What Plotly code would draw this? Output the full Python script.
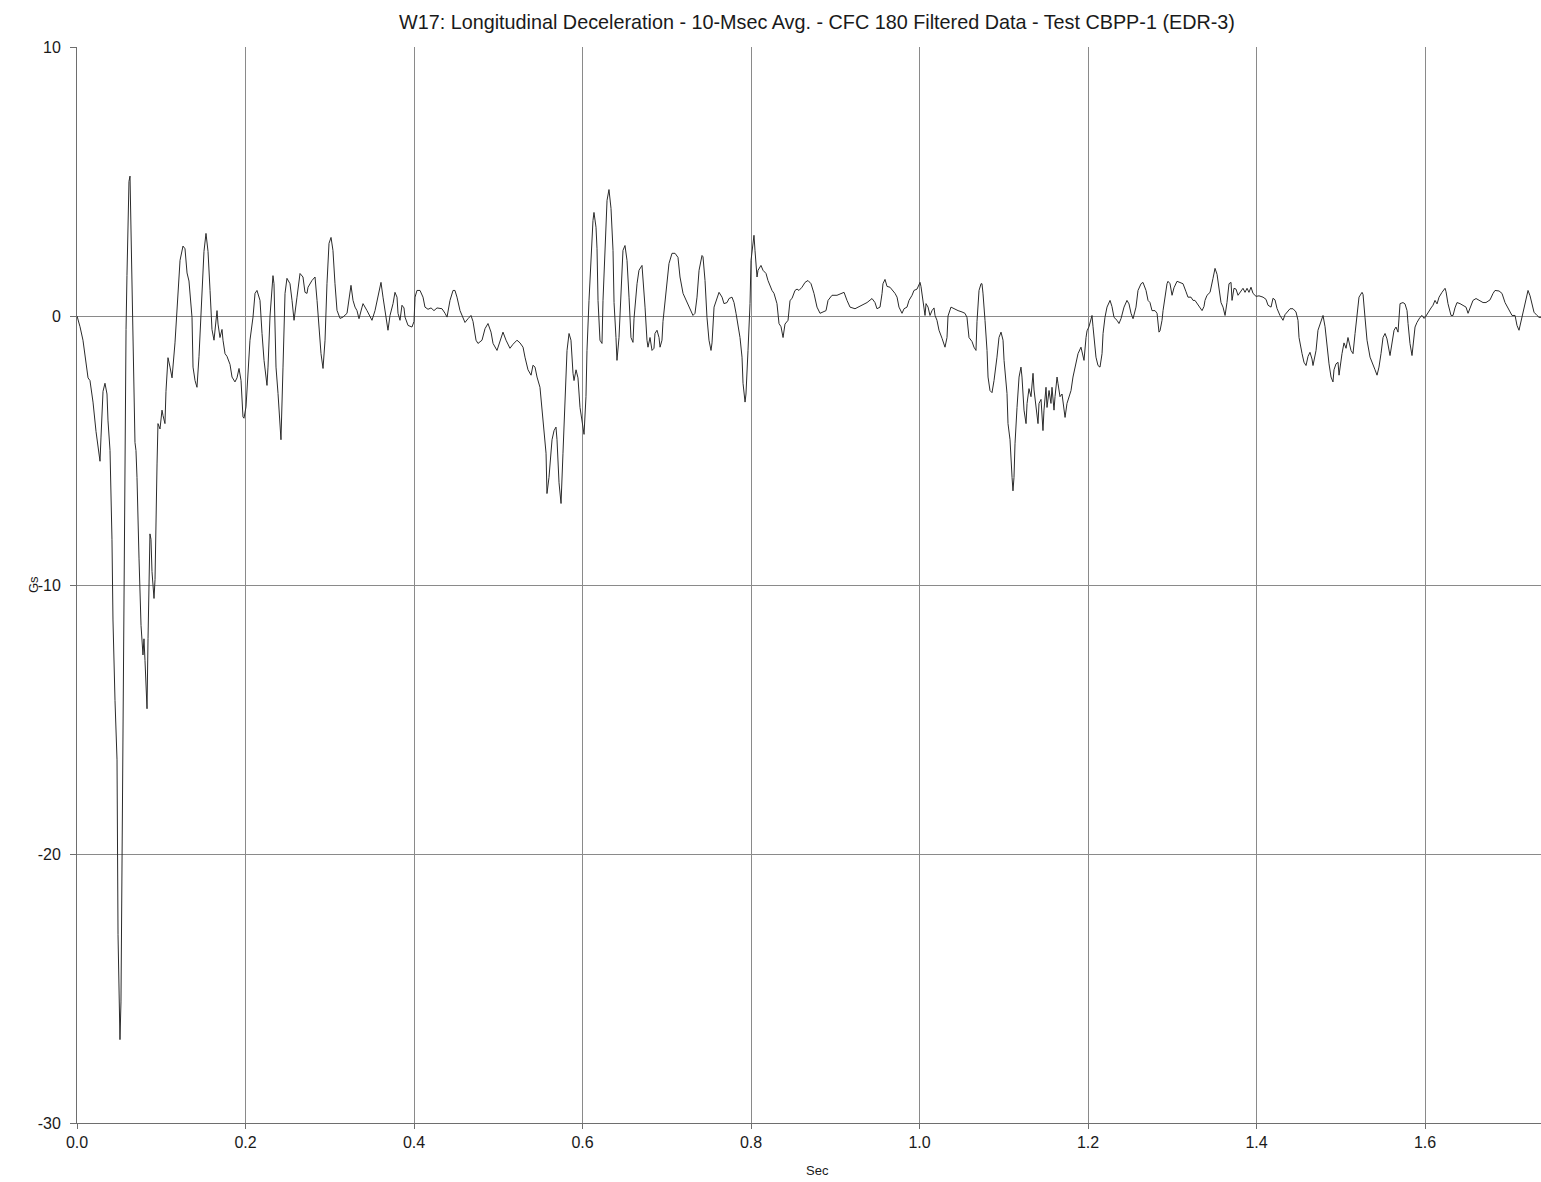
import plotly.graph_objects as go

title_text = "W17: Longitudinal Deceleration - 10-Msec Avg. - CFC 180 Filtered Data - Test CBPP-1 (EDR-3)"
x_label = "Sec"
y_label = "Gs"
x_ticks = [0.0, 0.2, 0.4, 0.6, 0.8, 1.0, 1.2, 1.4, 1.6]
y_ticks = [-30, -20, -10, 0, 10]
y_tick_text = ["-30", "-20", "-10", "0", "10"]

time_s = [
    0.0000, 0.0036, 0.0071, 0.0107, 0.0131, 0.0154, 0.0190, 0.0226, 0.0249, 0.0273,
    0.0285, 0.0309, 0.0332, 0.0356, 0.0368, 0.0392, 0.0415, 0.0427, 0.0451, 0.0475,
    0.0487, 0.0498, 0.0510, 0.0522, 0.0534, 0.0546, 0.0558, 0.0570, 0.0582, 0.0593,
    0.0605, 0.0617, 0.0629, 0.0641, 0.0653, 0.0665, 0.0677, 0.0688, 0.0700, 0.0712,
    0.0736, 0.0760, 0.0783, 0.0795, 0.0807, 0.0831, 0.0843, 0.0866, 0.0878, 0.0890,
    0.0914, 0.0926, 0.0950, 0.0961, 0.0985, 0.1009, 0.1021, 0.1044, 0.1056, 0.1080,
    0.1104, 0.1128, 0.1163, 0.1187, 0.1223, 0.1258, 0.1282, 0.1306, 0.1329, 0.1365,
    0.1377, 0.1401, 0.1424, 0.1448, 0.1484, 0.1507, 0.1531, 0.1555, 0.1579, 0.1602,
    0.1626, 0.1650, 0.1662, 0.1674, 0.1697, 0.1721, 0.1733, 0.1757, 0.1780, 0.1816,
    0.1840, 0.1875, 0.1899, 0.1923, 0.1947, 0.1970, 0.1982, 0.2006, 0.2030, 0.2053,
    0.2089, 0.2113, 0.2136, 0.2172, 0.2196, 0.2220, 0.2255, 0.2267, 0.2291, 0.2326,
    0.2338, 0.2362, 0.2386, 0.2421, 0.2445, 0.2469, 0.2492, 0.2528, 0.2552, 0.2576,
    0.2611, 0.2647, 0.2682, 0.2706, 0.2730, 0.2742, 0.2789, 0.2825, 0.2849, 0.2872,
    0.2896, 0.2920, 0.2944, 0.2967, 0.2991, 0.3015, 0.3038, 0.3062, 0.3086, 0.3122,
    0.3157, 0.3205, 0.3228, 0.3252, 0.3276, 0.3300, 0.3323, 0.3347, 0.3383, 0.3395,
    0.3442, 0.3478, 0.3501, 0.3537, 0.3573, 0.3608, 0.3632, 0.3656, 0.3679, 0.3691,
    0.3715, 0.3751, 0.3774, 0.3798, 0.3810, 0.3834, 0.3857, 0.3881, 0.3893, 0.3929,
    0.3976, 0.4000, 0.4012, 0.4035, 0.4071, 0.4107, 0.4130, 0.4166, 0.4202, 0.4237,
    0.4273, 0.4332, 0.4368, 0.4392, 0.4427, 0.4463, 0.4486, 0.4510, 0.4546, 0.4581,
    0.4605, 0.4641, 0.4676, 0.4700, 0.4736, 0.4759, 0.4807, 0.4843, 0.4878, 0.4914,
    0.4938, 0.4985, 0.5021, 0.5056, 0.5092, 0.5139, 0.5175, 0.5222, 0.5258, 0.5294,
    0.5317, 0.5353, 0.5389, 0.5412, 0.5436, 0.5460, 0.5495, 0.5531, 0.5567, 0.5578,
    0.5602, 0.5638, 0.5662, 0.5685, 0.5697, 0.5721, 0.5745, 0.5768, 0.5792, 0.5816,
    0.5840, 0.5863, 0.5887, 0.5899, 0.5923, 0.5946, 0.5970, 0.6006, 0.6018, 0.6041,
    0.6053, 0.6077, 0.6101, 0.6124, 0.6136, 0.6160, 0.6172, 0.6184, 0.6207, 0.6231,
    0.6243, 0.6267, 0.6291, 0.6314, 0.6338, 0.6362, 0.6374, 0.6397, 0.6409, 0.6433,
    0.6457, 0.6480, 0.6504, 0.6528, 0.6552, 0.6575, 0.6599, 0.6611, 0.6647, 0.6670,
    0.6706, 0.6718, 0.6742, 0.6765, 0.6777, 0.6801, 0.6825, 0.6848, 0.6860, 0.6884,
    0.6908, 0.6920, 0.6943, 0.6955, 0.6979, 0.7003, 0.7026, 0.7062, 0.7098, 0.7133,
    0.7157, 0.7193, 0.7228, 0.7264, 0.7311, 0.7335, 0.7359, 0.7383, 0.7418, 0.7430,
    0.7454, 0.7477, 0.7501, 0.7525, 0.7537, 0.7561, 0.7596, 0.7620, 0.7656, 0.7679,
    0.7715, 0.7739, 0.7774, 0.7798, 0.7822, 0.7845, 0.7869, 0.7893, 0.7905, 0.7929,
    0.7940, 0.7964, 0.7988, 0.8000, 0.8023, 0.8035, 0.8047, 0.8071, 0.8083, 0.8118,
    0.8142, 0.8178, 0.8201, 0.8249, 0.8273, 0.8308, 0.8332, 0.8356, 0.8380, 0.8403,
    0.8439, 0.8463, 0.8486, 0.8522, 0.8546, 0.8569, 0.8605, 0.8641, 0.8676, 0.8712,
    0.8747, 0.8783, 0.8819, 0.8854, 0.8890, 0.8914, 0.8961, 0.9020, 0.9080, 0.9104,
    0.9139, 0.9175, 0.9234, 0.9269, 0.9317, 0.9377, 0.9436, 0.9471, 0.9495, 0.9531,
    0.9555, 0.9566, 0.9590, 0.9614, 0.9649, 0.9685, 0.9709, 0.9733, 0.9756, 0.9792,
    0.9816, 0.9851, 0.9875, 0.9911, 0.9934, 0.9970, 1.0006, 1.0017, 1.0041, 1.0065,
    1.0077, 1.0101, 1.0124, 1.0148, 1.0172, 1.0184, 1.0207, 1.0231, 1.0267, 1.0302,
    1.0326, 1.0338, 1.0373, 1.0409, 1.0457, 1.0504, 1.0539, 1.0563, 1.0587, 1.0623,
    1.0646, 1.0670, 1.0682, 1.0706, 1.0730, 1.0741, 1.0753, 1.0777, 1.0801, 1.0813,
    1.0836, 1.0860, 1.0884, 1.0919, 1.0943, 1.0967, 1.0991, 1.1003, 1.1038, 1.1050,
    1.1074, 1.1098, 1.1109, 1.1121, 1.1133, 1.1157, 1.1181, 1.1204, 1.1216, 1.1240,
    1.1264, 1.1276, 1.1299, 1.1323, 1.1347, 1.1359, 1.1382, 1.1406, 1.1418, 1.1442,
    1.1465, 1.1477, 1.1501, 1.1513, 1.1537, 1.1560, 1.1572, 1.1596, 1.1608, 1.1632,
    1.1643, 1.1667, 1.1691, 1.1703, 1.1727, 1.1750, 1.1774, 1.1798, 1.1821, 1.1857,
    1.1881, 1.1916, 1.1928, 1.1952, 1.1976, 1.1988, 1.2011, 1.2047, 1.2059, 1.2094,
    1.2118, 1.2142, 1.2166, 1.2178, 1.2201, 1.2225, 1.2261, 1.2284, 1.2308, 1.2344,
    1.2367, 1.2391, 1.2427, 1.2462, 1.2486, 1.2510, 1.2534, 1.2569, 1.2593, 1.2629,
    1.2652, 1.2688, 1.2712, 1.2735, 1.2759, 1.2795, 1.2819, 1.2830, 1.2842, 1.2854,
    1.2878, 1.2890, 1.2913, 1.2937, 1.2949, 1.2973, 1.2997, 1.3020, 1.3056, 1.3091,
    1.3127, 1.3163, 1.3186, 1.3222, 1.3246, 1.3269, 1.3305, 1.3353, 1.3376, 1.3388,
    1.3412, 1.3448, 1.3483, 1.3507, 1.3531, 1.3554, 1.3578, 1.3602, 1.3626, 1.3649,
    1.3673, 1.3697, 1.3709, 1.3732, 1.3756, 1.3780, 1.3804, 1.3839, 1.3863, 1.3887,
    1.3910, 1.3934, 1.3958, 1.3994, 1.4029, 1.4077, 1.4112, 1.4136, 1.4172, 1.4195,
    1.4219, 1.4243, 1.4278, 1.4314, 1.4338, 1.4362, 1.4397, 1.4433, 1.4468, 1.4492,
    1.4504, 1.4540, 1.4563, 1.4587, 1.4611, 1.4634, 1.4658, 1.4670, 1.4706, 1.4729,
    1.4765, 1.4789, 1.4813, 1.4836, 1.4860, 1.4884, 1.4907, 1.4919, 1.4943, 1.4967,
    1.4979, 1.5014, 1.5038, 1.5062, 1.5085, 1.5121, 1.5145, 1.5169, 1.5192, 1.5216,
    1.5252, 1.5264, 1.5287, 1.5311, 1.5347, 1.5382, 1.5406, 1.5430, 1.5453, 1.5477,
    1.5501, 1.5525, 1.5548, 1.5584, 1.5608, 1.5632, 1.5655, 1.5679, 1.5703, 1.5738,
    1.5762, 1.5786, 1.5798, 1.5821, 1.5845, 1.5857, 1.5881, 1.5904, 1.5940, 1.5964,
    1.5988, 1.6011, 1.6035, 1.6071, 1.6094, 1.6118, 1.6142, 1.6166, 1.6201, 1.6237,
    1.6249, 1.6272, 1.6308, 1.6332, 1.6355, 1.6379, 1.6415, 1.6450, 1.6486, 1.6510,
    1.6533, 1.6569, 1.6605, 1.6640, 1.6688, 1.6723, 1.6771, 1.6807, 1.6830, 1.6878,
    1.6913, 1.6949, 1.6985, 1.7032, 1.7068, 1.7091, 1.7115, 1.7139, 1.7163, 1.7198,
    1.7222, 1.7246, 1.7269, 1.7293, 1.7329, 1.7352, 1.7376,
]

decel_g = [
    0.00, -0.40, -0.90, -1.80, -2.30, -2.40, -3.20, -4.30, -4.80, -5.40,
    -4.50, -2.80, -2.50, -2.90, -3.90, -5.00, -8.30, -11.30, -14.30, -16.50,
    -23.00, -25.00, -26.90, -25.50, -20.50, -14.00, -9.00, -4.00, -0.50, 1.50,
    3.50, 5.00, 5.20, 3.10, 0.40, -1.50, -3.50, -4.70, -5.00, -6.00,
    -9.00, -11.50, -12.60, -12.00, -12.80, -14.60, -12.00, -8.10, -8.30, -9.50,
    -10.50, -9.80, -5.50, -4.00, -4.20, -3.50, -3.70, -4.00, -2.80, -1.55,
    -1.90, -2.30, -1.00, 0.10, 2.07, 2.60, 2.50, 1.60, 1.30, -0.05,
    -1.90, -2.40, -2.65, -1.50, 0.70, 2.40, 3.07, 2.40, 0.95, -0.50,
    -0.90, 0.00, 0.20, -0.30, -0.80, -0.50, -0.90, -1.40, -1.50, -1.80,
    -2.27, -2.45, -2.30, -1.95, -2.40, -3.75, -3.80, -3.38, -2.27, -0.90,
    -0.04, 0.84, 0.95, 0.58, -0.65, -1.65, -2.58, -1.90, 0.00, 1.50,
    1.20, -1.90, -2.88, -4.60, -1.90, 0.84, 1.40, 1.20, 0.58, -0.16,
    0.70, 1.58, 1.45, 0.88, 0.84, 1.07, 1.32, 1.45, 0.58, -0.41,
    -1.40, -1.95, -0.90, 1.20, 2.70, 2.92, 2.44, 1.20, 0.21, -0.09,
    -0.04, 0.10, 0.70, 1.14, 0.58, 0.33, 0.20, -0.10, 0.33, 0.46,
    0.20, 0.00, -0.16, 0.20, 0.70, 1.25, 0.70, 0.20, -0.24, -0.53,
    0.02, 0.46, 0.88, 0.70, 0.10, -0.16, 0.40, 0.30, -0.04, -0.35,
    -0.41, -0.20, 0.70, 0.95, 0.95, 0.70, 0.33, 0.25, 0.30, 0.20,
    0.30, 0.27, 0.10, -0.04, 0.58, 0.95, 0.95, 0.70, 0.20, -0.10,
    -0.24, -0.10, 0.02, -0.20, -0.90, -1.02, -0.90, -0.47, -0.28, -0.60,
    -1.02, -1.28, -0.90, -0.60, -0.90, -1.20, -1.05, -0.90, -1.00, -1.16,
    -1.53, -2.00, -2.20, -1.83, -1.90, -2.27, -2.65, -3.77, -5.10, -6.60,
    -6.00, -4.60, -4.26, -4.13, -4.60, -6.20, -6.97, -5.10, -3.14, -1.28,
    -0.65, -0.90, -2.13, -2.40, -2.00, -2.30, -3.40, -4.26, -4.40, -3.00,
    -1.28, 0.58, 2.44, 3.55, 3.85, 3.30, 2.50, 0.58, -0.90, -1.02,
    0.58, 2.44, 4.30, 4.70, 4.00, 2.44, 0.50, -0.80, -1.65, -0.80,
    0.95, 2.44, 2.62, 2.07, 0.70, -0.80, -0.98, -0.10, 1.20, 1.70,
    1.88, 1.20, 0.33, -0.90, -1.16, -0.80, -1.28, -1.20, -0.65, -0.53,
    -0.80, -1.16, -0.90, -0.20, 0.58, 1.45, 1.95, 2.33, 2.33, 2.18,
    1.45, 0.84, 0.58, 0.33, 0.02, 0.10, 0.70, 1.70, 2.25, 2.20,
    1.32, -0.05, -0.90, -1.28, -1.00, 0.33, 0.70, 0.88, 0.70, 0.46,
    0.50, 0.65, 0.70, 0.50, 0.10, -0.28, -0.80, -1.53, -2.50, -3.20,
    -2.90, -1.28, 0.46, 2.07, 2.82, 3.00, 2.44, 1.45, 1.70, 1.88,
    1.70, 1.58, 1.32, 0.95, 0.84, 0.46, -0.28, -0.40, -0.80, -0.30,
    -0.16, 0.58, 0.65, 0.95, 1.00, 0.95, 1.07, 1.25, 1.32, 1.20,
    0.84, 0.33, 0.10, 0.15, 0.20, 0.58, 0.77, 0.77, 0.84, 0.88,
    0.58, 0.33, 0.27, 0.33, 0.40, 0.50, 0.65, 0.50, 0.27, 0.33,
    0.84, 1.20, 1.36, 1.10, 1.07, 0.95, 0.84, 0.70, 0.33, 0.10,
    0.27, 0.33, 0.58, 0.77, 0.95, 1.00, 1.25, 1.10, 0.58, 0.02,
    0.46, 0.33, 0.02, 0.20, 0.30, 0.02, -0.16, -0.53, -0.83, -1.16,
    -0.80, 0.00, 0.33, 0.27, 0.20, 0.15, 0.10, -0.05, -0.80, -0.95,
    -1.16, -1.28, -0.20, 0.95, 1.20, 1.20, 0.85, -0.16, -1.28, -2.27,
    -2.77, -2.85, -2.40, -1.53, -0.80, -0.60, -0.90, -1.65, -2.88, -4.00,
    -4.60, -6.00, -6.50, -6.00, -4.75, -3.40, -2.27, -1.90, -2.27, -3.50,
    -4.00, -3.25, -2.70, -3.00, -2.13, -2.75, -3.40, -4.00, -3.25, -3.10,
    -4.26, -3.50, -2.65, -3.40, -2.77, -3.25, -2.65, -3.50, -3.00, -2.27,
    -2.50, -3.00, -2.90, -3.14, -3.77, -3.25, -3.00, -2.77, -2.27, -1.78,
    -1.40, -1.16, -1.30, -1.65, -0.80, -0.55, -0.40, 0.02, -0.40, -1.53,
    -1.84, -1.90, -1.40, -0.65, -0.05, 0.33, 0.58, 0.35, -0.05, -0.16,
    -0.28, -0.10, 0.33, 0.58, 0.45, 0.10, -0.10, 0.33, 0.95, 1.20,
    1.25, 0.95, 0.58, 0.50, 0.20, 0.20, 0.10, -0.28, -0.60, -0.55,
    -0.16, 0.20, 0.70, 1.20, 1.29, 1.20, 0.77, 1.05, 1.29, 1.25,
    1.20, 0.90, 0.70, 0.70, 0.58, 0.58, 0.40, 0.20, 0.35, 0.58,
    0.77, 0.88, 1.40, 1.77, 1.55, 1.03, 0.50, 0.33, 0.02, 0.50,
    1.20, 1.25, 0.58, 1.03, 1.00, 0.77, 0.88, 1.03, 0.88, 1.03,
    0.88, 1.07, 0.84, 0.73, 0.75, 0.70, 0.62, 0.40, 0.33, 0.66,
    0.60, 0.28, 0.02, -0.16, 0.05, 0.15, 0.27, 0.27, 0.15, -0.16,
    -0.80, -1.40, -1.72, -1.84, -1.50, -1.35, -1.60, -1.84, -1.28, -0.53,
    -0.16, 0.02, -0.40, -1.16, -1.78, -2.27, -2.45, -2.00, -1.78, -1.72,
    -2.20, -1.40, -1.00, -1.20, -0.80, -1.28, -1.40, -0.65, 0.10, 0.70,
    0.88, 0.80, -0.05, -0.90, -1.53, -1.78, -2.00, -2.20, -1.90, -1.40,
    -0.80, -0.65, -0.85, -1.47, -0.95, -0.53, -0.41, -0.60, 0.46, 0.50,
    0.45, 0.20, -0.28, -1.02, -1.47, -1.10, -0.41, -0.24, -0.05, 0.02,
    -0.09, 0.00, 0.14, 0.30, 0.40, 0.58, 0.45, 0.70, 0.88, 1.03,
    0.90, 0.46, 0.02, 0.02, 0.30, 0.50, 0.46, 0.40, 0.33, 0.10,
    0.30, 0.58, 0.65, 0.58, 0.50, 0.50, 0.60, 0.84, 0.95, 0.93,
    0.84, 0.50, 0.27, 0.02, 0.02, -0.35, -0.53, -0.20, 0.20, 0.70,
    0.95, 0.75, 0.40, 0.14, 0.02, -0.05, -0.05,
]

assert len(time_s) == len(decel_g), (len(time_s), len(decel_g))

TEXT = "#1a1a1a"
GRID = "#8a8a8a"
AXIS = "#6e6e6e"
FONT = "Liberation Sans, Arial, sans-serif"

fig = go.Figure()
fig.add_trace(go.Scatter(
    x=time_s, y=decel_g, mode="lines",
    line=dict(color="#2b2b2b", width=1),
    showlegend=False, hoverinfo="skip",
))

fig.update_layout(
    width=1541, height=1182,
    margin=dict(l=77, r=0, t=47, b=59),
    paper_bgcolor="white", plot_bgcolor="white",
    font=dict(family=FONT, size=16, color=TEXT),
    showlegend=False,
    annotations=[
        dict(text=title_text, xref="paper", yref="paper", x=0.5055, y=1,
             yshift=25, xanchor="center", yanchor="middle", showarrow=False,
             font=dict(family=FONT, size=19.8, color=TEXT)),
        dict(text=y_label, xref="paper", yref="paper", x=0, xshift=-44, y=0.5,
             xanchor="center", yanchor="middle", textangle=-90, showarrow=False,
             font=dict(family=FONT, size=13, color=TEXT)),
        dict(text=x_label, xref="paper", yref="paper", x=0.5055, y=0, yshift=-47,
             xanchor="center", yanchor="middle", showarrow=False,
             font=dict(family=FONT, size=13, color=TEXT)),
    ],
)

fig.update_xaxes(
    range=[0, 1.7376], tickvals=x_ticks, tickformat=".1f",
    showgrid=True, gridcolor=GRID, gridwidth=1,
    showline=True, linecolor=AXIS, linewidth=1,
    ticks="outside", ticklen=5, tickcolor=AXIS,
    zeroline=False, tickfont=dict(family=FONT, size=16, color=TEXT),
)
fig.update_yaxes(
    range=[-30, 10], tickvals=y_ticks, ticktext=y_tick_text,
    showgrid=True, gridcolor=GRID, gridwidth=1,
    showline=True, linecolor=AXIS, linewidth=1,
    ticks="outside", ticklen=6, tickcolor=AXIS, ticklabelstandoff=6,
    zeroline=False, tickfont=dict(family=FONT, size=16, color=TEXT),
)

fig.write_html(
    "out.html",
    config={"displayModeBar": False},
    post_script="document.body.style.margin='0px';document.documentElement.style.overflow='hidden';",
)
